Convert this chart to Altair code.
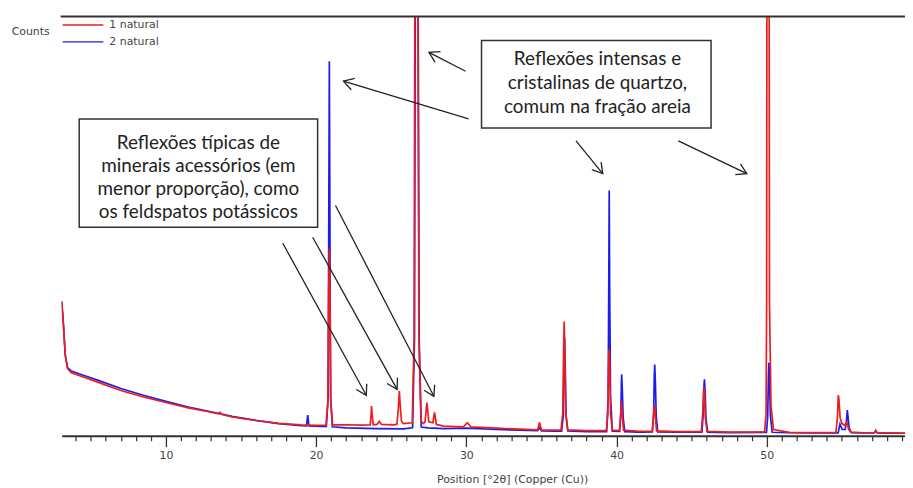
import math
import altair as alt
import pandas as pd

# ---------------- data ----------------
series_names = ["1 natural", "2 natural"]
series_colors = ["#ee1c1c", "#1c1cee"]

red_points = [
    (3.06, 8150), (3.15, 7200), (3.3, 5000), (3.45, 4200), (3.7, 3950), (4.5, 3700),
    (5.5, 3380), (7.0, 2900), (8.5, 2520), (10.0, 2190), (11.5, 1880), (13.0, 1620),
    (13.5, 1520), (13.6, 1620), (13.7, 1500), (14.4, 1350), (16.0, 1130), (17.5, 960),
    (19.0, 870), (20.0, 840),
    (20.66, 850), (20.78, 2200), (20.84, 9000), (20.88, 11270), (20.92, 9000), (20.98, 2200), (21.1, 870),
    (22.0, 880), (23.0, 860),
    (23.6, 870), (23.66, 1500), (23.69, 1990), (23.73, 1500), (23.8, 880),
    (24.05, 900), (24.2, 1080), (24.35, 900), (25.2, 880),
    (25.38, 920), (25.47, 1800), (25.54, 2870), (25.6, 2000), (25.68, 1100), (25.8, 950),
    (26.4, 1000), (26.52, 6000), (26.58, 30000), (26.61, 60000), (26.72, 60000), (26.76, 30000),
    (26.84, 6000), (26.98, 1100), (27.15, 950),
    (27.25, 1050), (27.33, 1800), (27.37, 2190), (27.42, 1800), (27.5, 1050),
    (27.78, 1000), (27.85, 1450), (27.88, 1610), (27.92, 1400), (28.0, 900),
    (28.5, 800), (29.8, 760), (30.07, 1000), (30.3, 760), (32.0, 680),
    (34.75, 580), (34.87, 1020), (35.0, 570), (36.0, 560),
    (36.3, 570), (36.42, 1600), (36.47, 5000), (36.51, 6970), (36.55, 5500), (36.61, 1600), (36.74, 580),
    (38.0, 540),
    (39.32, 540), (39.42, 1500), (39.47, 4500), (39.5, 5310), (39.54, 4500), (39.6, 1500), (39.72, 560),
    (40.2, 540), (40.28, 1600), (40.32, 2280), (40.36, 1600), (40.46, 560),
    (41.5, 500),
    (42.38, 510), (42.47, 1500), (42.52, 2030), (42.57, 1500), (42.66, 520),
    (44.0, 480),
    (45.64, 480), (45.74, 1600), (45.8, 3070), (45.85, 2900), (45.9, 1400), (46.02, 500),
    (47.5, 450),
    (49.85, 460), (49.95, 1500), (49.99, 8000), (50.02, 40000), (50.14, 40000), (50.18, 8000),
    (50.28, 2000), (50.45, 600),
    (51.5, 430), (53.0, 420),
    (54.6, 430), (54.7, 1300), (54.76, 2620), (54.8, 2400), (54.88, 1300), (55.0, 950),
    (55.2, 850), (55.33, 1050), (55.45, 600), (55.6, 450),
    (56.5, 410), (57.15, 420), (57.25, 560), (57.35, 420), (58.0, 400), (59.2, 390),
]

blue_points = [
    (3.06, 8150), (3.15, 7200), (3.3, 5000), (3.45, 4250), (3.7, 4050), (4.5, 3800),
    (5.5, 3500), (7.0, 3020), (8.5, 2620), (10.0, 2260), (11.5, 1930), (13.0, 1650),
    (14.4, 1380), (16.0, 1140), (17.5, 950), (19.0, 830),
    (19.36, 820), (19.44, 1450), (19.52, 810), (20.3, 790),
    (20.68, 780), (20.8, 2500), (20.85, 15000), (20.88, 22300), (20.91, 15000), (20.96, 2500), (21.08, 760),
    (22.0, 700), (24.0, 650), (25.8, 640),
    (26.42, 700), (26.55, 6000), (26.61, 30000), (26.64, 60000), (26.75, 60000), (26.78, 30000),
    (26.86, 6000), (27.0, 750),
    (27.45, 700), (28.5, 650), (30.0, 680), (32.0, 600),
    (34.75, 530), (34.87, 700), (35.0, 520), (36.0, 500),
    (36.34, 510), (36.45, 1400), (36.5, 4500), (36.54, 6000), (36.58, 4500), (36.64, 1400), (36.76, 520),
    (38.0, 480),
    (39.34, 480), (39.44, 2500), (39.48, 9000), (39.51, 14690), (39.54, 9000), (39.6, 2500), (39.72, 500),
    (40.2, 490), (40.28, 1500), (40.32, 3200), (40.34, 3850), (40.38, 3000), (40.44, 1300), (40.54, 480),
    (41.5, 450),
    (42.38, 460), (42.47, 1600), (42.51, 3800), (42.54, 4430), (42.58, 3500), (42.64, 1400), (42.74, 460),
    (44.0, 440),
    (45.68, 440), (45.77, 1500), (45.82, 3200), (45.85, 3560), (45.89, 2900), (45.95, 1300), (46.06, 450),
    (47.5, 420),
    (49.98, 430), (50.06, 1400), (50.11, 3800), (50.14, 4530), (50.18, 3600), (50.24, 1400), (50.36, 440),
    (51.5, 410), (53.0, 400),
    (54.75, 400), (54.87, 920), (55.02, 600),
    (55.22, 600), (55.3, 1100), (55.36, 1740), (55.4, 1400), (55.48, 700), (55.62, 420),
    (56.5, 400), (57.15, 400), (57.25, 520), (57.35, 400), (58.0, 390), (59.2, 380),
]

x_major_ticks = [10, 20, 30, 40, 50]
x_minor_ticks = [v for v in range(4, 60) if v % 10 != 0]
y_ticks = [10000, 20000]

x_title = "Position [°2θ] (Copper (Cu))"
y_title = "Counts"

# annotation boxes (data coordinates) and their texts
box_x1 = [31.01, 4.23]
box_x2 = [46.29, 20.10]
box_y1 = [23534, 18905]
box_y2 = [18378, 12520]
box_text_x = [38.73, 12.16]
box_text_y = [22421, 17499]   # first text line
box_texts = [
    "Reflexões intensas e\ncristalinas de quartzo,\ncomum na fração areia",
    "Reflexões típicas de\nminerais acessórios (em\nmenor proporção), como\nos feldspatos potássicos",
]

# arrows: start -> tip (data coordinates)
arrow_x1 = [29.95, 30.15, 37.30, 44.11, 17.78, 19.77, 21.29]
arrow_y1 = [21717, 18905, 17616, 17616, 11582, 11934, 13808]
arrow_x2 = [27.51, 21.82, 39.08, 48.67, 23.34, 25.39, 27.84]
arrow_y2 = [22831, 21132, 15683, 15683, 2618, 2970, 2560]

# ---------------- layout ----------------
X_MIN, X_MAX = 3.06, 59.2
Y_MIN, Y_MAX = 234, 24940
W, H = 849, 422
FONT = "DejaVu Sans"
AXIS_COLOR = "#333333"
TEXT_COLOR = "#444444"

xs = alt.Scale(domain=[X_MIN, X_MAX], nice=False, zero=False)
ys = alt.Scale(domain=[Y_MIN, Y_MAX], nice=False, zero=False)

df_red = pd.DataFrame(red_points, columns=["x", "y"])
df_blue = pd.DataFrame(blue_points, columns=["x", "y"])

major_axis = alt.Axis(
    values=x_major_ticks, format="d", orient="bottom", grid=False,
    tickSize=11, tickWidth=1.3, tickColor=AXIS_COLOR, labelPadding=3,
    domainWidth=2, domainColor=AXIS_COLOR, labelFont=FONT, labelFontSize=11,
    labelColor=TEXT_COLOR, labelFlush=False,
    title=x_title, titleFont=FONT, titleFontSize=11, titleFontWeight="normal",
    titleColor=TEXT_COLOR, titleX=453.5, titleY=44, titleAlign="center",
    titleBaseline="middle", titleAnchor="start",
)
minor_axis = alt.Axis(
    values=x_minor_ticks, orient="bottom", grid=False, labels=False, domain=False,
    tickSize=5, tickWidth=1.2, tickColor=AXIS_COLOR, title=None,
)
y_axis = alt.Axis(
    values=y_ticks, format="d", grid=False, tickSize=9, tickWidth=1.3,
    tickColor=AXIS_COLOR, labelPadding=4, domainWidth=2, domainColor=AXIS_COLOR,
    labelFont=FONT, labelFontSize=11, labelColor=TEXT_COLOR, title=None,
)

blue_line = alt.Chart(df_blue).mark_line(
    clip=True, color=series_colors[1], strokeWidth=1.7
).encode(
    x=alt.X("x:Q", scale=xs, axis=major_axis),
    y=alt.Y("y:Q", scale=ys, axis=y_axis),
)
red_line = alt.Chart(df_red).mark_line(
    clip=True, color=series_colors[0], strokeWidth=1.7
).encode(
    x=alt.X("x:Q", scale=xs, axis=minor_axis),
    y=alt.Y("y:Q", scale=ys, axis=None),
)

# top frame line
one = pd.DataFrame({"a": [0]})
top_line = alt.Chart(one).mark_rule(color=AXIS_COLOR, strokeWidth=2).encode(
    x=alt.value(-1), x2=alt.value(W + 2), y=alt.value(0)
)

# "Counts" label
counts_txt = alt.Chart(one).mark_text(
    align="right", baseline="middle", font=FONT, fontSize=11, color=TEXT_COLOR
).encode(x=alt.value(-12), y=alt.value(16), text=alt.value(y_title))

# legend (manual)
leg_red = alt.Chart(one).mark_rule(color=series_colors[0], strokeWidth=1.5).encode(
    x=alt.value(1), x2=alt.value(42), y=alt.value(8.5))
leg_blue = alt.Chart(one).mark_rule(color=series_colors[1], strokeWidth=1.5).encode(
    x=alt.value(1), x2=alt.value(42), y=alt.value(25.5))
leg_t1 = alt.Chart(one).mark_text(
    align="left", baseline="middle", font=FONT, fontSize=11, color=TEXT_COLOR
).encode(x=alt.value(48), y=alt.value(9), text=alt.value(series_names[0]))
leg_t2 = alt.Chart(one).mark_text(
    align="left", baseline="middle", font=FONT, fontSize=11, color=TEXT_COLOR
).encode(x=alt.value(48), y=alt.value(26), text=alt.value(series_names[1]))

# annotation boxes
df_box = pd.DataFrame({"x1": box_x1, "x2": box_x2, "y1": box_y1, "y2": box_y2,
                       "tx": box_text_x, "ty": box_text_y, "text": box_texts})
boxes = alt.Chart(df_box).mark_rect(
    fill="white", stroke="#333333", strokeWidth=1.5
).encode(
    x=alt.X("x1:Q", scale=xs, axis=None), x2="x2:Q",
    y=alt.Y("y1:Q", scale=ys, axis=None), y2="y2:Q",
)


def box_text(i, line_height):
    return alt.Chart(df_box.iloc[[i]]).mark_text(
        align="center", baseline="middle", font="Lato", fontSize=19,
        lineBreak="\n", lineHeight=line_height, color="#222222"
    ).encode(
        x=alt.X("tx:Q", scale=xs, axis=None),
        y=alt.Y("ty:Q", scale=ys, axis=None),
        text="text:N",
    )


box_txt1 = box_text(0, 24)
box_txt2 = box_text(1, 23.3)

# arrows
kx = W / (X_MAX - X_MIN)
ky = H / (Y_MAX - Y_MIN)
angles = []
for x1, y1, x2, y2 in zip(arrow_x1, arrow_y1, arrow_x2, arrow_y2):
    dx = (x2 - x1) * kx
    dy = -(y2 - y1) * ky
    angles.append(math.degrees(math.atan2(dx, -dy)) % 360)

df_arr = pd.DataFrame({"x1": arrow_x1, "y1": arrow_y1, "x2": arrow_x2,
                       "y2": arrow_y2, "ang": angles})
arrow_lines = alt.Chart(df_arr).mark_rule(color="#222222", strokeWidth=1.3).encode(
    x=alt.X("x1:Q", scale=xs, axis=None), x2="x2:Q",
    y=alt.Y("y1:Q", scale=ys, axis=None), y2="y2:Q",
)
arrow_heads = alt.Chart(df_arr).mark_point(
    shape="M-0.6,1L0,0L0.6,1", filled=False, size=400, strokeWidth=1.3,
    color="#222222", opacity=1
).encode(
    x=alt.X("x2:Q", scale=xs, axis=None),
    y=alt.Y("y2:Q", scale=ys, axis=None),
    angle=alt.Angle("ang:Q", scale=None),
)

chart = alt.layer(
    blue_line, red_line, top_line, counts_txt, leg_red, leg_blue, leg_t1, leg_t2,
    arrow_lines, arrow_heads, boxes, box_txt1, box_txt2,
).resolve_axis(x="independent").properties(
    width=W, height=H,
    autosize=alt.AutoSizeParams(type="none"),
    padding={"left": 54, "top": 7, "right": 0, "bottom": 50},
    background="white",
).configure_view(stroke=None)

chart.save("out.html", embed_options={"renderer": "svg", "actions": False})
